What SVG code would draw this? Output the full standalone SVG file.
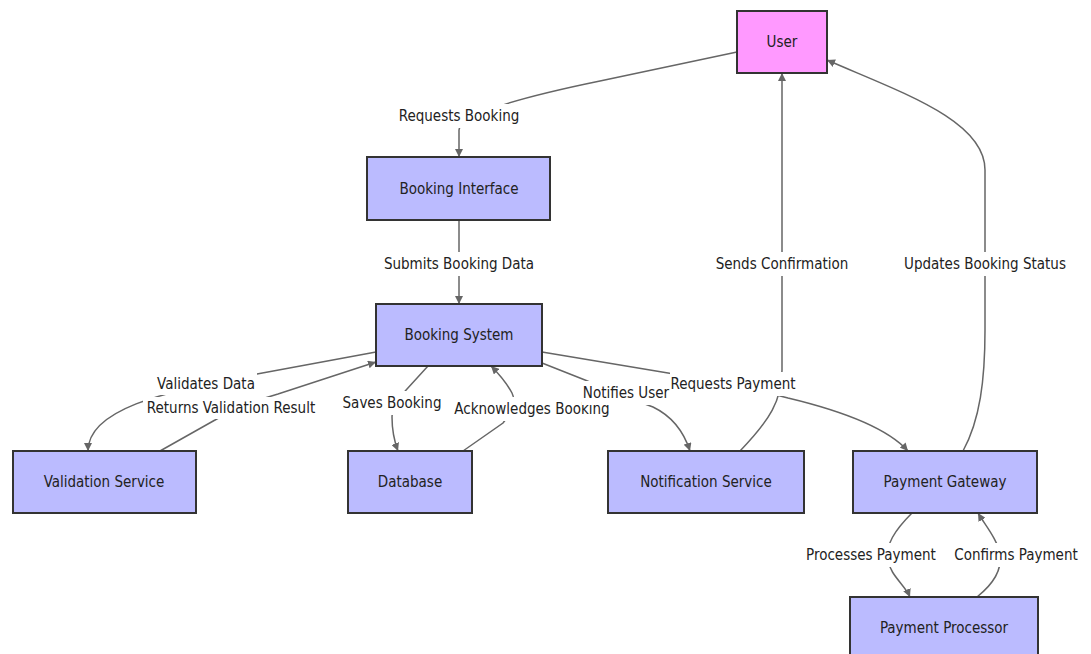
<svg xmlns="http://www.w3.org/2000/svg" width="1091" height="654" viewBox="0 0 1091 654">
<style>
.node rect{fill:#bbbbff;stroke:#333;stroke-width:2}
#n-user rect{fill:#ff99ff}
text{font-family:"DejaVu Sans Condensed","Liberation Sans",Arial,sans-serif;font-stretch:condensed;font-size:15px;fill:#222;text-anchor:middle;dominant-baseline:central}
.edge{fill:none;stroke:#666;stroke-width:1.5}
.lbl rect{fill:#fff;stroke:none}
</style>
<defs>
<marker id="arr" viewBox="0 0 10 10" refX="10" refY="5" markerWidth="8" markerHeight="8" markerUnits="userSpaceOnUse" orient="auto">
<path d="M0,0 L10,5 L0,10 z" fill="#666"/>
</marker>
</defs>
<rect width="1091" height="654" fill="#fff"/>
<g id="connectors">
<path class="edge" marker-end="url(#arr)" d="M737,52 L600,81 Q459,110 459,130 L459,157"/>
<path class="edge" marker-end="url(#arr)" d="M459,220 L459,304"/>
<path class="edge" marker-end="url(#arr)" d="M740,451 C770,420 782,400 782,370 L782,73"/>
<path class="edge" marker-end="url(#arr)" d="M963,451 C980,420 985,380 985,330 L985,170 C985,120 900,92 827,60"/>
<path class="edge" marker-end="url(#arr)" d="M376,352 L257,374 C160,392 88,410 88,451"/>
<path class="edge" marker-end="url(#arr)" d="M160,451 L215,420 Q240,405 278,394 L376,362"/>
<path class="edge" marker-end="url(#arr)" d="M428,366 L407,389 Q392,405 392,417 Q392,435 398,451"/>
<path class="edge" marker-end="url(#arr)" d="M463,451 L503,423 Q518,405 512,393 Q505,380 491,366"/>
<path class="edge" marker-end="url(#arr)" d="M542,363 L585,380 Q620,395 653,407 Q680,420 690,451"/>
<path class="edge" marker-end="url(#arr)" d="M542,352 L668,373 Q740,385 788,398 Q880,420 908,451"/>
<path class="edge" marker-end="url(#arr)" d="M912,513 C895,530 885,545 888,560 C890,575 905,585 910,597"/>
<path class="edge" marker-end="url(#arr)" d="M977,597 C992,585 1002,570 1000,555 C998,540 985,525 978,513"/>
</g>
<g id="edge-labels">
<g class="lbl"><rect x="397" y="104" width="124" height="24"/><text x="459" y="116">Requests Booking</text></g>
<g class="lbl"><rect x="382" y="252" width="154" height="24"/><text x="459" y="264">Submits Booking Data</text></g>
<g class="lbl"><rect x="713" y="252" width="139" height="24"/><text x="782" y="264">Sends Confirmation</text></g>
<g class="lbl"><rect x="903" y="252" width="165" height="24"/><text x="985" y="264">Updates Booking Status</text></g>
<g class="lbl"><rect x="155" y="373" width="102" height="22"/><text x="206" y="384">Validates Data</text></g>
<g class="lbl"><rect x="143" y="397" width="176" height="22"/><text x="231" y="408">Returns Validation Result</text></g>
<g class="lbl"><rect x="342" y="391" width="100" height="24"/><text x="392" y="403">Saves Booking</text></g>
<g class="lbl"><rect x="452" y="397" width="159" height="24"/><text x="532" y="409">Acknowledges Booking</text></g>
<g class="lbl"><rect x="582" y="381" width="89" height="24"/><text x="626" y="393">Notifies User</text></g>
<g class="lbl"><rect x="670" y="372" width="127" height="24"/><text x="733" y="384">Requests Payment</text></g>
<g class="lbl"><rect x="803" y="543" width="135" height="24"/><text x="871" y="555">Processes Payment</text></g>
<g class="lbl"><rect x="954" y="543" width="124" height="24"/><text x="1016" y="555">Confirms Payment</text></g>
</g>
<g id="n-user" class="node"><rect x="737" y="11" width="90" height="62"/><text x="782" y="42">User</text></g>
<g id="n-interface" class="node"><rect x="367" y="157" width="183" height="63"/><text x="459" y="189">Booking Interface</text></g>
<g id="n-system" class="node"><rect x="376" y="304" width="166" height="62"/><text x="459" y="335">Booking System</text></g>
<g id="n-validation" class="node"><rect x="13" y="451" width="183" height="62"/><text x="104" y="482">Validation Service</text></g>
<g id="n-database" class="node"><rect x="348" y="451" width="124" height="62"/><text x="410" y="482">Database</text></g>
<g id="n-notification" class="node"><rect x="608" y="451" width="196" height="62"/><text x="706" y="482">Notification Service</text></g>
<g id="n-gateway" class="node"><rect x="853" y="451" width="184" height="62"/><text x="945" y="482">Payment Gateway</text></g>
<g id="n-processor" class="node"><rect x="850" y="597" width="188" height="62"/><text x="944" y="628">Payment Processor</text></g>
</svg>
